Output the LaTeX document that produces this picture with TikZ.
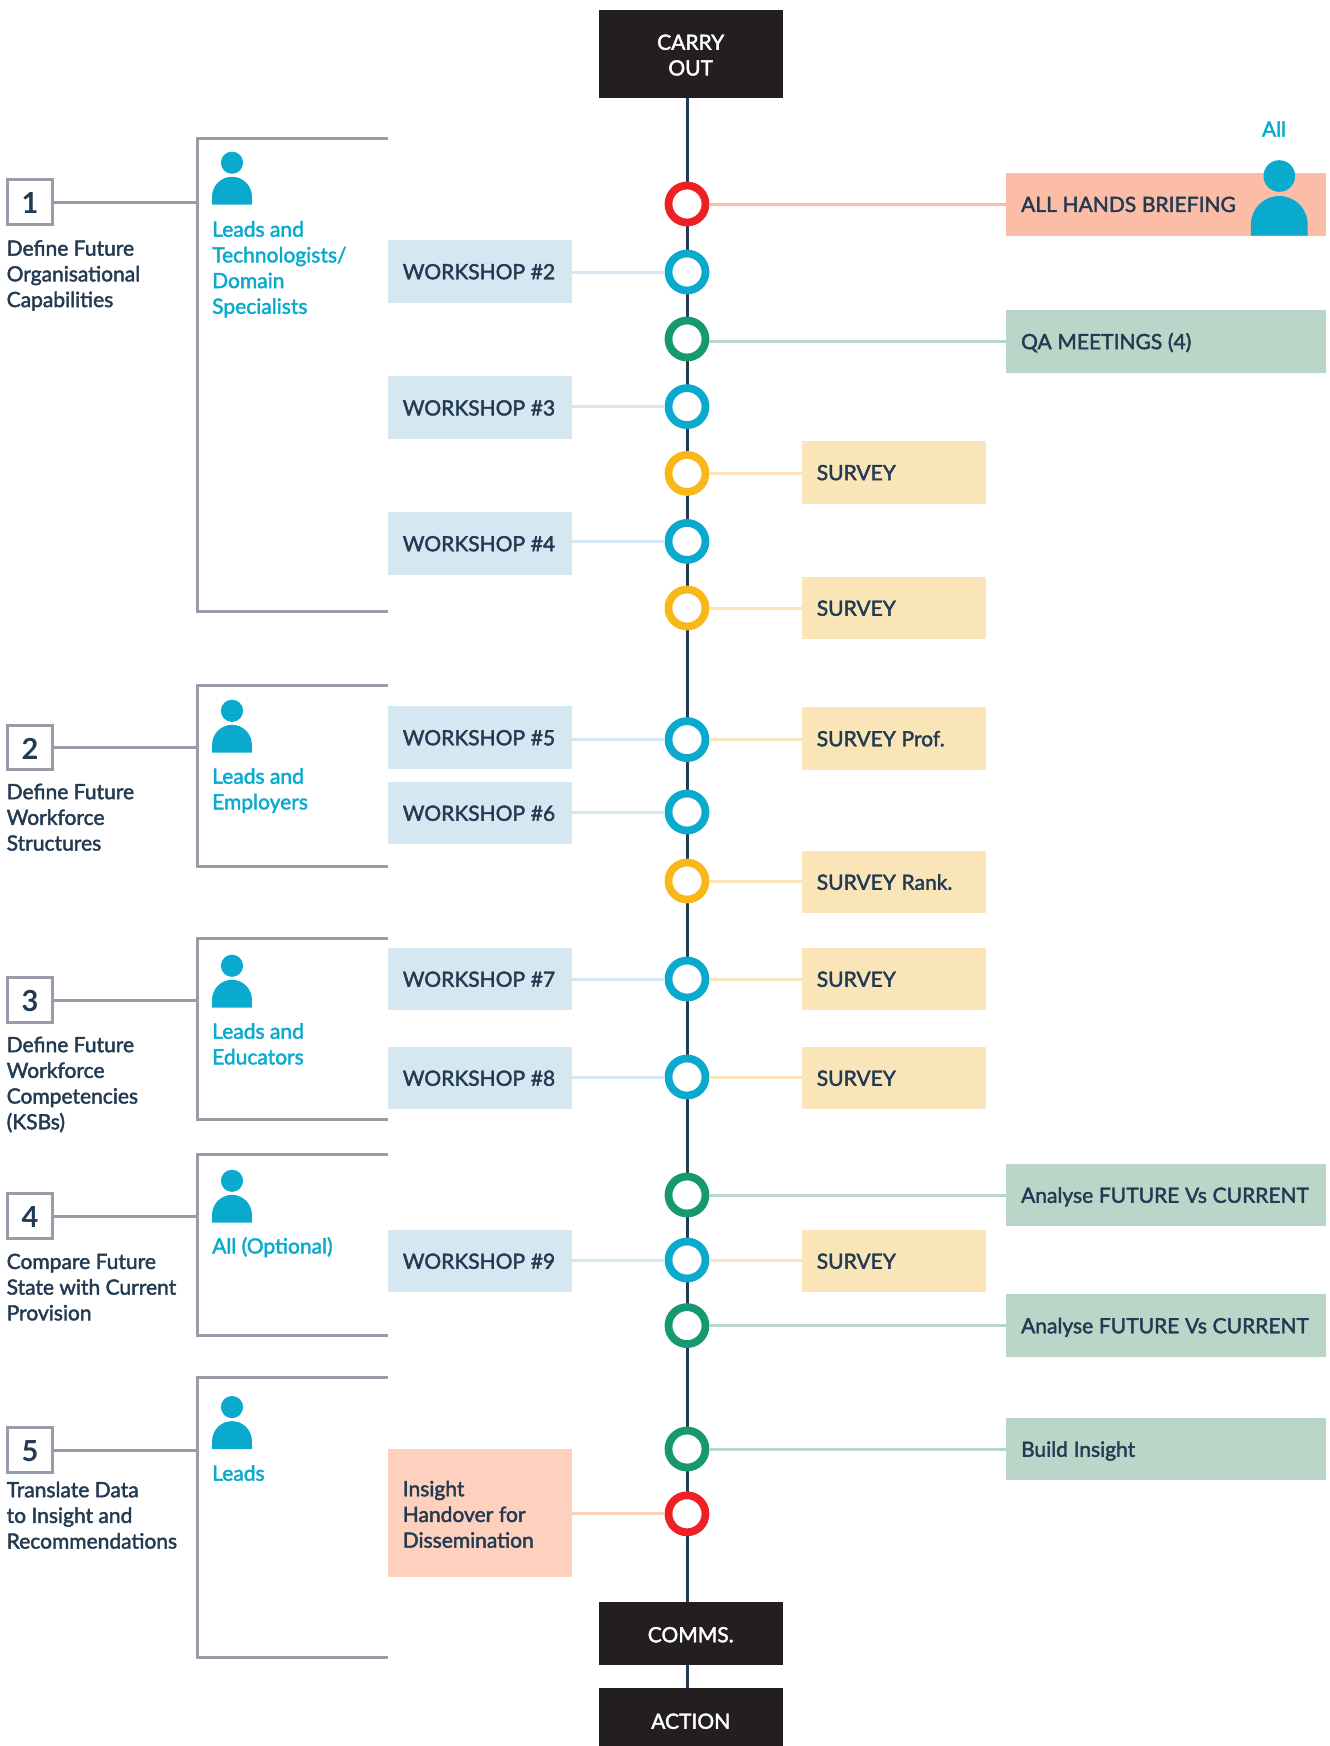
\documentclass[tikz,border=0pt]{standalone}
\usepackage{fontspec}
\setmainfont{Lato}[FakeBold=2]
\newfontfamily\numfont{Lato}[UprightFont=* Bold]
\definecolor{ink}{HTML}{233B52}
\definecolor{framegrey}{HTML}{9A9BA8}
\definecolor{night}{HTML}{231F20}
\definecolor{cyanish}{HTML}{0AAACE}
\definecolor{ringred}{HTML}{EE2024}
\definecolor{ringgreen}{HTML}{17996F}
\definecolor{ringyellow}{HTML}{F9B71A}
\definecolor{wsfill}{HTML}{D5E8F1}
\definecolor{svfill}{HTML}{FAE5B8}
\definecolor{qafill}{HTML}{BCD5C9}
\definecolor{brfill}{HTML}{FBBDA5}
\definecolor{hofill}{HTML}{FDD1BE}
\tikzset{person/.pic={
  \fill[cyanish] (0,-59.7) circle (15.8);
  \fill[cyanish] (-28.4,0) -- (-28.4,-11.3) arc (180:360:28.4) -- (28.4,0) -- cycle;
}}
\begin{document}
\begin{tikzpicture}[x=1pt,y=-1pt,font=\fontsize{21}{25.7}\selectfont,text=ink]
\tikzstyle{endbox} = [fill=night, text=white, inner sep=0pt, align=center, text width=184pt]
\tikzstyle{lane} = [minimum height=62.7pt, inner sep=0pt, align=left, execute at begin node={\leftskip=14.8pt\spaceskip=0.27em}]
\tikzstyle{oneline} = [text depth=0pt, text height=15.5pt]
\tikzstyle{wsbox} = [lane, oneline, fill=wsfill, text width=184pt]
\tikzstyle{svbox} = [lane, oneline, fill=svfill, text width=184pt]
\tikzstyle{qabox} = [lane, oneline, fill=qafill, text width=319.4pt]
\tikzstyle{brbox} = [lane, oneline, fill=brfill, text width=319.4pt]
\tikzstyle{ring} = [circle, fill=white, line width=7.8pt, minimum size=37pt, inner sep=0pt]
\tikzstyle{spine} = [draw=ink, line width=3pt]
\tikzstyle{frame} = [draw=framegrey, line width=3pt]
\tikzstyle{numbox} = [draw=framegrey, line width=3pt, minimum size=44.7pt, inner sep=0pt, text depth=0pt, text height=23pt, font=\numfont\fontsize{29}{29}\selectfont]
\tikzstyle{stagetxt} = [anchor=north west, inner sep=0pt, align=left]
\tikzstyle{roletxt} = [stagetxt, text=cyanish]
\useasboundingbox (0,0) rectangle (1330,1746);

\coordinate (axis) at (687,0);
\node[endbox, text depth=23.7pt, minimum height=88pt] (carry) at (690.7,54) {CARRY\\OUT};
\node[endbox, text depth=0pt, text height=17.5pt, minimum height=63pt] (comms) at (690.7,1633.5) {COMMS.};
\node[endbox, text depth=0pt, text height=17.5pt, minimum height=64pt] (action) at (690.7,1720) {ACTION};
\draw[spine] (axis |- carry.south) -- (axis |- comms.north);
\draw[spine] (axis |- comms.south) -- (axis |- action.north);

% rings on the axis
\node[ring, draw=ringred] (r1) at (687,204) {};
\node[ring, draw=cyanish] (r2) at (687,272) {};
\node[ring, draw=ringgreen] (r3) at (687,339) {};
\node[ring, draw=cyanish] (r4) at (687,406.6) {};
\node[ring, draw=ringyellow] (r5) at (687,473.4) {};
\node[ring, draw=cyanish] (r6) at (687,541.4) {};
\node[ring, draw=ringyellow] (r7) at (687,608) {};
\node[ring, draw=cyanish] (r8) at (687,739.6) {};
\node[ring, draw=cyanish] (r9) at (687,812) {};
\node[ring, draw=ringyellow] (r10) at (687,881) {};
\node[ring, draw=cyanish] (r11) at (687,979) {};
\node[ring, draw=cyanish] (r12) at (687,1077) {};
\node[ring, draw=ringgreen] (r13) at (687,1195) {};
\node[ring, draw=cyanish] (r14) at (687,1260) {};
\node[ring, draw=ringgreen] (r15) at (687,1325.6) {};
\node[ring, draw=ringgreen] (r16) at (687,1449) {};
\node[ring, draw=ringred] (r17) at (687,1513.8) {};

% workshops
\node[wsbox] (ws2) at (480,271.5) {WORKSHOP \#2};
\node[wsbox] (ws3) at (480,407.7) {WORKSHOP \#3};
\node[wsbox] (ws4) at (480,543.5) {WORKSHOP \#4};
\node[wsbox] (ws5) at (480,737.5) {WORKSHOP \#5};
\node[wsbox] (ws6) at (480,813) {WORKSHOP \#6};
\node[wsbox] (ws7) at (480,979) {WORKSHOP \#7};
\node[wsbox] (ws8) at (480,1078) {WORKSHOP \#8};
\node[wsbox] (ws9) at (480,1261) {WORKSHOP \#9};
\node[lane, text depth=49.4pt, fill=hofill, text width=184pt, minimum height=127.7pt] (hand) at (480,1513.2) {Insight\\Handover for\\Dissemination};

% surveys
\node[svbox] (sv1) at (894,472.4) {SURVEY};
\node[svbox] (sv2) at (894,608) {SURVEY};
\node[svbox] (sv3) at (894,738.5) {SURVEY Prof.};
\node[svbox] (sv4) at (894,882) {SURVEY Rank.};
\node[svbox] (sv5) at (894,979) {SURVEY};
\node[svbox] (sv6) at (894,1078) {SURVEY};
\node[svbox] (sv7) at (894,1261) {SURVEY};

% far right column
\node[brbox] (brief) at (1166,204.2) {ALL HANDS BRIEFING};
\node[qabox] (qa) at (1166,341.4) {QA MEETINGS (4)};
\node[qabox] (an1) at (1166,1195) {Analyse FUTURE Vs CURRENT};
\node[qabox] (an2) at (1166,1325.5) {Analyse FUTURE Vs CURRENT};
\node[qabox] (ins) at (1166,1449) {Build Insight};
\node[text=cyanish, inner sep=0pt] (alltxt) at (1274,129) {All};
\pic at (1279.3,235.7) {person};

% links
\draw[wsfill, line width=3pt] (ws2.east |- r2) -- (r2);
\draw[wsfill, line width=3pt] (ws3.east |- r4) -- (r4);
\draw[wsfill, line width=3pt] (ws4.east |- r6) -- (r6);
\draw[wsfill, line width=3pt] (ws5.east |- r8) -- (r8);
\draw[wsfill, line width=3pt] (ws6.east |- r9) -- (r9);
\draw[wsfill, line width=3pt] (ws7.east |- r11) -- (r11);
\draw[wsfill, line width=3pt] (ws8.east |- r12) -- (r12);
\draw[wsfill, line width=3pt] (ws9.east |- r14) -- (r14);
\draw[hofill, line width=3pt] (hand.east |- r17) -- (r17);
\draw[svfill, line width=3pt] (r5) -- (sv1.west |- r5);
\draw[svfill, line width=3pt] (r7) -- (sv2.west |- r7);
\draw[svfill, line width=3pt] (r8) -- (sv3.west |- r8);
\draw[svfill, line width=3pt] (r10) -- (sv4.west |- r10);
\draw[svfill, line width=3pt] (r11) -- (sv5.west |- r11);
\draw[svfill, line width=3pt] (r12) -- (sv6.west |- r12);
\draw[svfill, line width=3pt] (r14) -- (sv7.west |- r14);
\draw[brfill, line width=3pt] (r1) -- (brief.west |- r1);
\draw[qafill, line width=3pt] (qa.west -| r3.east) -- (qa.west);
\draw[qafill, line width=3pt] (r13) -- (an1.west |- r13);
\draw[qafill, line width=3pt] (r15) -- (an2.west |- r15);
\draw[qafill, line width=3pt] (r16) -- (ins.west |- r16);

% stages on the left
\node[numbox] (n1) at (30,202) {1};
\node[numbox] (n2) at (30,747.5) {2};
\node[numbox] (n3) at (30,1000) {3};
\node[numbox] (n4) at (30,1216) {4};
\node[numbox] (n5) at (30,1450) {5};
\coordinate (f1) at (197,138);
\coordinate (f2) at (197,685);
\coordinate (f3) at (197,938);
\coordinate (f4) at (197,1154);
\coordinate (f5) at (197,1377);
\draw[frame] (388,138) -- (f1) -- (197,611.5) -- (388,611.5);
\draw[frame] (388,685) -- (f2) -- (197,866.6) -- (388,866.6);
\draw[frame] (388,938) -- (f3) -- (197,1119.5) -- (388,1119.5);
\draw[frame] (388,1154) -- (f4) -- (197,1335.6) -- (388,1335.6);
\draw[frame] (388,1377) -- (f5) -- (197,1657.5) -- (388,1657.5);
\draw[frame] (n1) -- (n1 -| f1);
\draw[frame] (n2) -- (n2 -| f2);
\draw[frame] (n3) -- (n3 -| f3);
\draw[frame] (n4) -- (n4 -| f4);
\draw[frame] (n5) -- (n5 -| f5);

\node[stagetxt] (s1) at (6.5,240) {Define Future\\Organisational\\Capabilities};
\node[stagetxt] (s2) at (6.5,783.5) {Define Future\\Workforce\\Structures};
\node[stagetxt] (s3) at (6.5,1036.5) {Define Future\\Workforce\\Competencies\\(KSBs)};
\node[stagetxt] (s4) at (6.5,1253.5) {Compare Future\\State with Current\\Provision};
\node[stagetxt] (s5) at (6.5,1481.5) {Translate Data\\to Insight and\\Recommendations};

\pic[scale=0.702] at (232,204.6) {person};
\pic[scale=0.702] at (232,752.7) {person};
\pic[scale=0.702] at (232,1007.7) {person};
\pic[scale=0.702] at (232,1222.7) {person};
\pic[scale=0.702] at (232,1449) {person};
\node[roletxt] (w1) at (212,221) {Leads and\\Technologists/\\Domain\\Specialists};
\node[roletxt] (w2) at (212,768) {Leads and\\Employers};
\node[roletxt] (w3) at (212,1023) {Leads and\\Educators};
\node[roletxt] (w4) at (212,1237) {All (Optional)};
\node[roletxt] (w5) at (212,1465) {Leads};
\end{tikzpicture}
\end{document}
